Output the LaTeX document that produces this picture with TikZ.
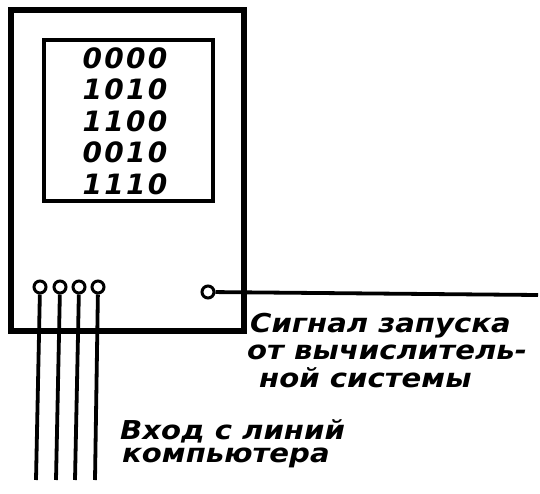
\documentclass[tikz,border=0pt]{standalone}
\usepackage{fontspec}
\newfontfamily\lab[FakeStretch=1.12]{DejaVu Sans}
\newfontfamily\digs[LetterSpace=8]{DejaVu Sans}
\begin{document}
\begin{tikzpicture}[x=1pt,y=-1pt,
  box/.style={draw, line width=5.5pt, inner sep=0pt},
  screen/.style={draw, line width=4.5pt, inner sep=0pt},
  pin/.style={draw, circle, line width=3pt, minimum size=12pt, inner sep=0pt},
  wire/.style={line width=3.8pt},
  labeltext/.style={font=\lab\bfseries\itshape\fontsize{26}{26}\selectfont, anchor=west, inner sep=0pt},
  digtext/.style={font=\digs\bfseries\itshape\fontsize{28}{31.5}\selectfont, align=center, inner sep=0pt}]
\useasboundingbox (0,0) rectangle (540,494);
\node[box, minimum width=233pt, minimum height=321pt] (outer) at (127.5,170.5) {};
\node[screen, minimum width=169pt, minimum height=161pt] (inner) at (128.5,120.5) {};
\node[digtext] (code) at (125,121) {0000\\1010\\1100\\0010\\1110};
\node[pin] (p1) at (40,287) {};
\node[pin] (p2) at (60,287) {};
\node[pin] (p3) at (79,287) {};
\node[pin] (p4) at (98,287) {};
\coordinate (e1) at (36,480);
\coordinate (e2) at (56,480);
\coordinate (e3) at (75,480);
\coordinate (e4) at (95,480);
\draw[wire] (p1) -- (e1);
\draw[wire] (p2) -- (e2);
\draw[wire] (p3) -- (e3);
\draw[wire] (p4) -- (e4);
\node[pin] (s) at (208,292) {};
\coordinate (se) at (538,295);
\draw[wire] (s) -- (se);
\node[labeltext] (l1) at (250,326) {Сигнал запуска};
\node[labeltext] (l2) at (247,352) {от вычислитель-};
\node[labeltext] (l3) at (259,378) {ной системы};
\node[labeltext] (l4) at (120,431) {Вход с линий};
\node[labeltext] (l5) at (122,458) {компьютера};
\end{tikzpicture}
\end{document}
